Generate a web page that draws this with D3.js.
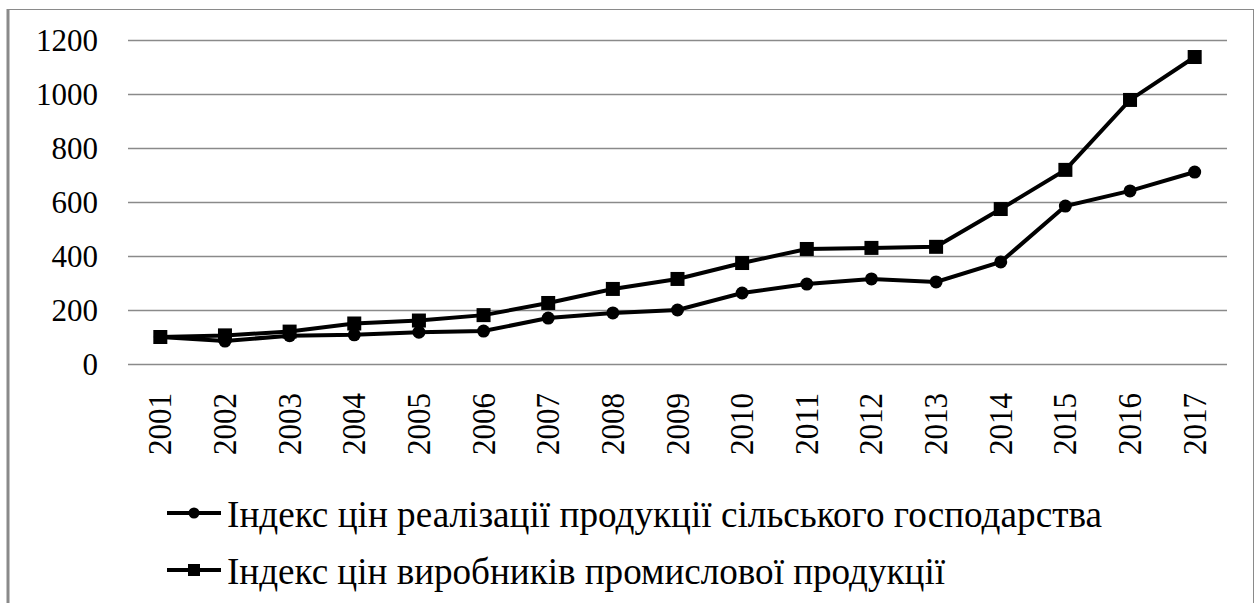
<!DOCTYPE html>
<html>
<head>
<meta charset="utf-8">
<script src="https://cdn.jsdelivr.net/npm/d3@7"></script>
</head>
<body style="margin:0">
<script>
// categories
var years = ["2001", "2002", "2003", "2004", "2005", "2006", "2007", "2008", "2009",
             "2010", "2011", "2012", "2013", "2014", "2015", "2016", "2017"];

// agricultural sale price index (circles)
var agroValues = [100, 85, 105, 108, 118, 122, 170, 189, 200, 263, 296, 315, 304, 378, 585, 641, 711];

// industrial producer price index (squares)
var industryValues = [100, 106, 120, 150, 161, 181, 226, 278, 315, 374, 426, 430, 434, 574, 719, 978, 1137];

var seriesNames = ["Індекс цін реалізації продукції сільського господарства",
                   "Індекс цін виробників промислової продукції"];

var yTicks = [0, 200, 400, 600, 800, 1000, 1200];

// set width, height and margins
var w = 1258;
var h = 603;
var margin = {top: 40, right: 31, bottom: 239, left: 128};

var svg = d3.select("body")
            .append("svg")
            .attr("width", w)
            .attr("height", h);

// chart frame
svg.append("rect")
   .attr("x", 8.5)
   .attr("y", 9.5)
   .attr("width", 1245)
   .attr("height", 610)
   .style("fill", "#ffffff")
   .style("stroke", "#8a8a8a")
   .style("stroke-width", 1);

svg.append("line")
   .attr("x1", 8)
   .attr("x2", 8)
   .attr("y1", 9)
   .attr("y2", h)
   .style("stroke", "#8a8a8a")
   .style("stroke-width", 3);

// scales
var xScale = d3.scaleBand()
               .domain(years)
               .range([margin.left, w - margin.right]);

var yScale = d3.scaleLinear()
               .domain([0, 1200])
               .range([h - margin.bottom, margin.top]);

var cx = function(d, i) { return xScale(years[i]) + xScale.bandwidth() / 2; };

// gridlines and y labels from the scale ticks
var yg = svg.append("g").attr("class", "yaxis");

yg.selectAll("line")
  .data(yTicks)
  .enter()
  .append("line")
  .attr("x1", margin.left)
  .attr("x2", w - margin.right)
  .attr("y1", function(d) { return yScale(d) + 0.5; })
  .attr("y2", function(d) { return yScale(d) + 0.5; })
  .style("stroke", "#8a8a8a")
  .style("stroke-width", 1.5);

yg.selectAll("text")
  .data(yTicks)
  .enter()
  .append("text")
  .attr("x", margin.left - 30)
  .attr("y", function(d) { return yScale(d) + 11; })
  .attr("text-anchor", "end")
  .style("font-family", "'Liberation Serif'")
  .style("font-size", "31px")
  .text(function(d) { return d; });

// rotated year labels
svg.append("g")
   .attr("class", "xaxis")
   .selectAll("text")
   .data(years)
   .enter()
   .append("text")
   .attr("transform", function(d, i) {
     return "translate(" + (cx(d, i) + 11) + "," + (h - margin.bottom + 29) + ") rotate(-90)";
   })
   .attr("text-anchor", "end")
   .style("font-family", "'Liberation Serif'")
   .style("font-size", "33px")
   .attr("textLength", 62)
   .attr("lengthAdjust", "spacingAndGlyphs")
   .text(function(d) { return d; });

// line generator
var valueline = d3.line()
    .x(cx)
    .y(function(d) { return yScale(d); });

svg.append("path")
   .datum(agroValues)
   .attr("d", valueline)
   .style("fill", "none")
   .style("stroke", "#000")
   .style("stroke-width", 4);

svg.append("path")
   .datum(industryValues)
   .attr("d", valueline)
   .style("fill", "none")
   .style("stroke", "#000")
   .style("stroke-width", 4);

// markers
svg.append("g")
   .selectAll("circle")
   .data(agroValues)
   .enter()
   .append("circle")
   .attr("cx", cx)
   .attr("cy", function(d) { return yScale(d); })
   .attr("r", 6.5)
   .style("fill", "#000");

var sq = 14;
svg.append("g")
   .selectAll("rect")
   .data(industryValues)
   .enter()
   .append("rect")
   .attr("x", function(d, i) { return cx(d, i) - sq / 2; })
   .attr("y", function(d) { return yScale(d) - sq / 2; })
   .attr("width", sq)
   .attr("height", sq)
   .style("fill", "#000");

// legend
var legendY = [513, 570];
var legendWidths = [875, 718];

legendY.forEach(function(ly, i) {
  svg.append("line")
     .attr("x1", 167)
     .attr("x2", 221)
     .attr("y1", ly)
     .attr("y2", ly)
     .style("stroke", "#000")
     .style("stroke-width", 4);
  if (i == 0) {
    svg.append("circle")
       .attr("cx", 194)
       .attr("cy", ly)
       .attr("r", 5.5)
       .style("fill", "#000");
  } else {
    svg.append("rect")
       .attr("x", 188)
       .attr("y", ly - 6)
       .attr("width", 12)
       .attr("height", 12)
       .style("fill", "#000");
  }
  svg.append("text")
     .attr("x", 227)
     .attr("y", ly + 14)
     .style("font-family", "'Liberation Serif'")
     .style("font-size", "37px")
     .attr("textLength", legendWidths[i])
     .attr("lengthAdjust", "spacingAndGlyphs")
     .text(seriesNames[i]);
});
</script>
</body>
</html>
